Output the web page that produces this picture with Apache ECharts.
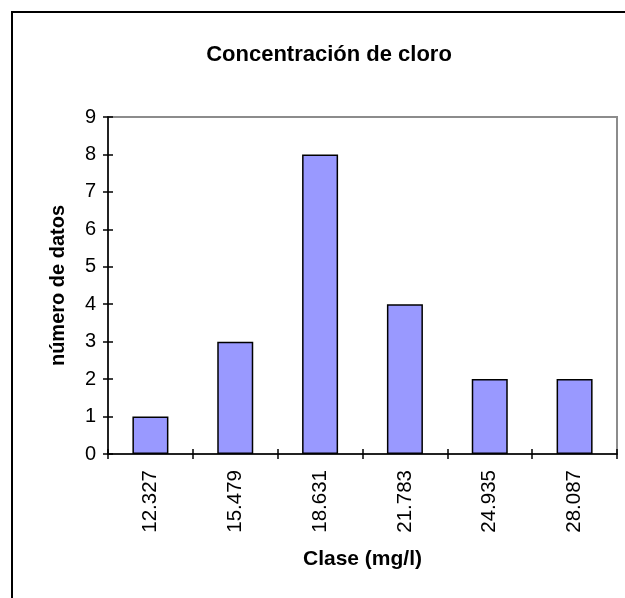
<!DOCTYPE html>
<html>
<head>
<meta charset="utf-8">
<script src="https://cdn.jsdelivr.net/npm/echarts@6/dist/echarts.min.js"></script>
<style>
  html, body { margin: 0; padding: 0; background: #fff; }
  #chart { width: 625px; height: 598px; }
</style>
</head>
<body>
<div id="chart"></div>
<script>
// Class marks (mg/l) and the number of samples falling in each class
const categories = ['12.327', '15.479', '18.631', '21.783', '24.935', '28.087'];
const counts = [1, 3, 8, 4, 2, 2];
const yTicks = { min: 0, max: 9, interval: 1 };

const FONT = '"Liberation Sans", Arial, sans-serif';

const chart = echarts.init(document.getElementById('chart'), null, { renderer: 'canvas' });

chart.setOption({
  animation: false,
  backgroundColor: '#ffffff',
  title: {
    text: 'Concentración de cloro',
    left: 324,
    top: 39,
    textAlign: 'center',
    textStyle: { fontFamily: FONT, fontSize: 22, fontWeight: 'bold', color: '#000' }
  },
  graphic: [{
    type: 'rect',
    shape: { x: 12, y: 12, width: 700, height: 700 },
    style: { fill: 'none', stroke: '#000', lineWidth: 2 },
    silent: true,
    z: -1
  }],
  grid: {
    left: 108, right: 8, top: 117, bottom: 144,
    show: true,
    borderColor: '#8c8c8c',
    borderWidth: 2,
    backgroundColor: 'transparent'
  },
  xAxis: [{
    type: 'category',
    data: categories,
    boundaryGap: true,
    name: 'Clase (mg/l)',
    nameLocation: 'middle',
    nameGap: 95,
    nameTextStyle: { fontFamily: FONT, fontSize: 21, fontWeight: 'bold', color: '#000' },
    axisLine: { show: true, lineStyle: { color: '#000', width: 1.5 } },
    axisTick: { show: true, inside: false, length: 5, lineStyle: { color: '#000', width: 1.5 } },
    axisLabel: { rotate: 90, margin: 16, fontFamily: FONT, fontSize: 20.5, color: '#000' },
    splitLine: { show: false }
  }, {
    // same category scale, ticks pointing into the plot so they cross the axis line
    type: 'category',
    data: categories,
    position: 'bottom',
    boundaryGap: true,
    axisLine: { show: false },
    axisTick: { show: true, inside: true, length: 5, lineStyle: { color: '#000', width: 1.5 } },
    axisLabel: { show: false },
    splitLine: { show: false }
  }],
  yAxis: [{
    type: 'value',
    min: yTicks.min, max: yTicks.max, interval: yTicks.interval,
    name: 'número de datos',
    nameLocation: 'middle',
    nameGap: 40,
    nameTextStyle: { fontFamily: FONT, fontSize: 20, fontWeight: 'bold', color: '#000' },
    axisLine: { show: true, lineStyle: { color: '#000', width: 1.5 } },
    axisTick: { show: true, inside: false, length: 5, lineStyle: { color: '#000', width: 1.5 } },
    axisLabel: { margin: 12, fontFamily: FONT, fontSize: 20, color: '#000' },
    splitLine: { show: false }
  }, {
    type: 'value',
    position: 'left',
    min: yTicks.min, max: yTicks.max, interval: yTicks.interval,
    axisLine: { show: false },
    axisTick: { show: true, inside: true, length: 5, lineStyle: { color: '#000', width: 1.5 } },
    axisLabel: { show: false },
    splitLine: { show: false }
  }],
  series: [{
    type: 'bar',
    data: counts,
    barWidth: 36,
    itemStyle: { color: '#9999ff', borderColor: '#000', borderWidth: 1.5 },
    silent: true
  }]
});
</script>
</body>
</html>
